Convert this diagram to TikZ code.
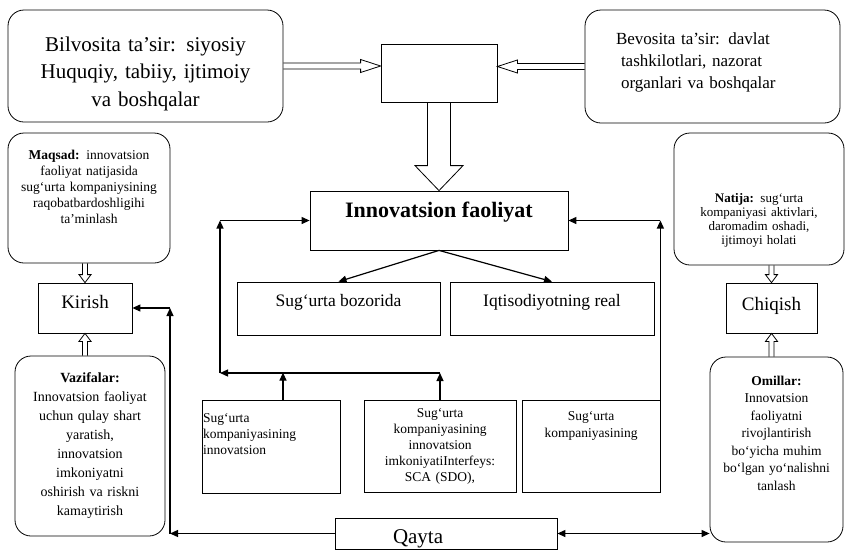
\documentclass[tikz,border=0pt]{standalone}
\usepackage{fontspec}
\setmainfont{Liberation Serif}
\usetikzlibrary{arrows.meta,calc}

\newcommand\hollowarr[5]{%
  \coordinate (hb) at ($(#2)!#5!(#1)$);
  \draw[hol] ($(#1)!#3!90:(#2)$) -- ($(hb)!#3!90:(#2)$) -- ($(hb)!#4!90:(#2)$)
    -- (#2) -- ($(hb)!#4!-90:(#2)$) -- ($(hb)!#3!-90:(#2)$) -- ($(#1)!#3!-90:(#2)$);}

\begin{document}
\begin{tikzpicture}[x=1pt,y=-1pt,
    box/.style={draw,line width=0.8pt,inner sep=0pt},
    rbox/.style={box,rounded corners=16pt},
    hugetxt/.style={font=\fontsize{21}{27.5}\selectfont},
    bigtxt/.style={font=\fontsize{17.5}{22}\selectfont},
    smalltxt/.style={font=\fontsize{13.5}{16}\selectfont},
    arr/.style={-{Triangle[length=8pt,width=7pt]},line width=1.2pt},
    arrboth/.style={{Triangle[length=8pt,width=7pt]}-{Triangle[length=8pt,width=7pt]},line width=1.2pt},
    hol/.style={line width=0.8pt}
  ]
  \useasboundingbox (0,0) rectangle (846,550);

  \node[rbox,hugetxt,minimum width=275pt,text width=260pt,align=center,
    text height=41pt,text depth=71pt] (bil) at (145.5,66)
    {Bilvosita ta’sir: siyosiy\\Huquqiy, tabiiy, ijtimoiy\\va boshqalar};
  \node[rbox,font=\fontsize{17}{22}\selectfont,minimum width=255pt,text width=193pt,align=left,
    text height=34pt,text depth=79pt] (bev) at (712.5,66.5)
    {Bevosita ta’sir: davlat\\\hspace*{5pt}tashkilotlari, nazorat\\\hspace*{5pt}organlari va boshqalar};
  \node[box,minimum width=116pt,minimum height=58pt] (mid) at (439,73) {};

  \node[box,font=\fontsize{22}{26}\selectfont\bfseries,minimum width=258pt,
    text height=26pt,text depth=33pt] (inno) at (439,220.5) {Innovatsion faoliyat};
  \node[box,bigtxt,minimum width=203pt,text height=24pt,text depth=29pt] (boz) at (338.5,308.5) {Sug‘urta bozorida};
  \node[box,bigtxt,minimum width=204pt,text height=24pt,text depth=29pt] (iqt) at (552,308.5) {Iqtisodiyotning real};

  \node[box,smalltxt,minimum width=138pt,text width=136pt,align=left,
    text height=22pt,text depth=71pt] (b1) at (271,446.5) {Sug‘urta\\kompaniyasining\\innovatsion};
  \node[box,smalltxt,minimum width=152pt,text width=150pt,align=center,
    text height=17pt,text depth=75pt] (b2) at (440,446) {Sug‘urta\\kompaniyasining\\innovatsion\\imkoniyatiInterfeys:\\SCA (SDO),};
  \node[box,font=\fontsize{13.5}{17}\selectfont,minimum width=138pt,text width=136pt,align=center,
    text height=20pt,text depth=72pt] (b3) at (591,446) {Sug‘urta\\kompaniyasining};
  \node[box,font=\fontsize{21}{24}\selectfont,minimum width=222pt,text width=214pt,align=left,
    text height=25pt,text depth=6pt] (qayta) at (446,533.5) {\hspace*{54pt}Qayta};

  \node[rbox,smalltxt,minimum width=162pt,text width=154pt,align=center,
    text height=26pt,text depth=104pt] (maqsad) at (89,198)
    {\textbf{Maqsad:} innovatsion\\faoliyat natijasida\\sug‘urta kompaniysining\\raqobatbardoshligihi\\ta’minlash};
  \node[box,font=\fontsize{19}{22}\selectfont,minimum width=94pt,text height=25pt,text depth=25pt] (kirish) at (85,308) {Kirish};
  \node[rbox,font=\fontsize{14}{19}\selectfont,minimum width=150pt,text width=144pt,align=center,
    text height=26pt,text depth=154pt] (vaz) at (90,446)
    {\textbf{Vazifalar:}\\Innovatsion faoliyat\\uchun qulay shart\\yaratish,\\innovatsion\\imkoniyatni\\oshirish va riskni\\kamaytirish};

  \node[rbox,font=\fontsize{13}{14}\selectfont,minimum width=170pt,text width=164pt,align=center,
    text height=69pt,text depth=63pt] (natija) at (759,199)
    {\textbf{Natija:} sug‘urta\\kompaniyasi aktivlari,\\daromadim oshadi,\\ijtimoyi holati};
  \node[box,font=\fontsize{19}{22}\selectfont,minimum width=91pt,text height=27pt,text depth=23pt] (chiqish) at (771.5,308) {Chiqish};
  \node[rbox,font=\fontsize{13.5}{17.5}\selectfont,minimum width=133pt,text width=128pt,align=center,
    text height=28pt,text depth=157pt] (oml) at (776.5,449.5)
    {\textbf{Omillar:}\\Innovatsion\\faoliyatni\\rivojlantirish\\bo‘yicha muhim\\bo‘lgan yo‘nalishni\\tanlash};

  \coordinate (tl) at (mid.west |- bil.east);
  \coordinate (tr) at (mid.east |- bev.west);
  \coordinate (m1) at (kirish.north |- maqsad.south);
  \coordinate (v1) at (kirish.south |- vaz.north);
  \coordinate (n1) at (chiqish.north |- natija.south);
  \coordinate (o1) at (chiqish.south |- oml.north);
  \coordinate (lb) at (220,373);
  \coordinate (kc) at (170,0);

  \hollowarr{bil.east}{tl}{3pt}{6.5pt}{20pt}
  \hollowarr{bev.west}{tr}{3pt}{6.5pt}{20pt}
  \hollowarr{mid.south}{inno.north}{11.5pt}{24pt}{25pt}
  \hollowarr{m1}{kirish.north}{2.5pt}{6pt}{8pt}
  \hollowarr{v1}{kirish.south}{2.5pt}{6pt}{8pt}
  \hollowarr{n1}{chiqish.north}{2.5pt}{6pt}{8pt}
  \hollowarr{o1}{chiqish.south}{2.5pt}{6pt}{8pt}

  \draw[arr] (inno.south) -- (boz.north);
  \draw[arr] (inno.south) -- (iqt.north);
  \draw[arr] ([xshift=12pt]b1.north) -- ++(0,-27);
  \draw[arr] (b2.north) -- (b2.north |- lb);
  \draw[arr] (b2.north |- lb) -- (lb);
  \draw[arr] (lb) -- (lb |- inno.west);
  \draw[arr] (lb |- inno.west) -- (inno.west);
  \draw[arr] (b3.north east) -- (b3.north east |- inno.east);
  \draw[arr] (b3.north east |- inno.east) -- (inno.east);
  \draw[arr] (qayta.west) -- (qayta.west -| kc);
  \draw[arr] (qayta.west -| kc) -- (kirish.east -| kc);
  \draw[arr] (kirish.east -| kc) -- (kirish.east);
  \draw[arrboth] (qayta.east) -- (qayta.east -| oml.west);
\end{tikzpicture}
\end{document}
